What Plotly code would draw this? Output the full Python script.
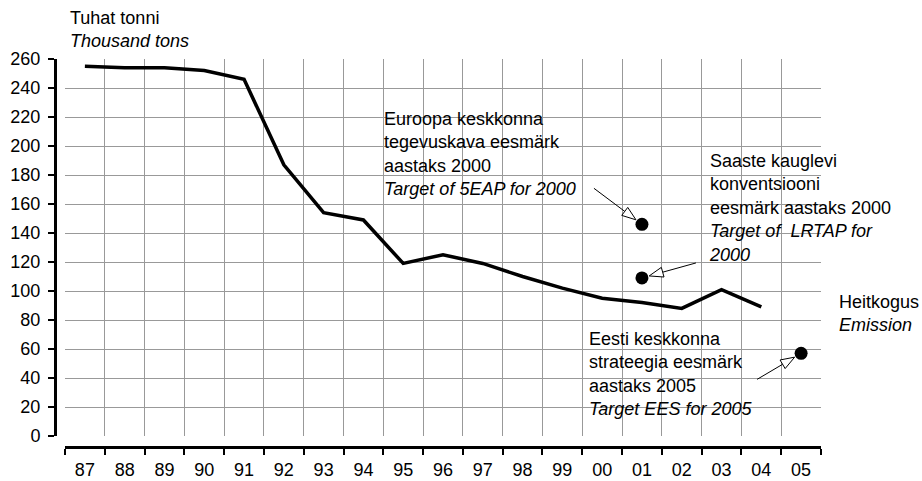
import math
import plotly.graph_objects as go

# ---- data -------------------------------------------------------------
years = ["87", "88", "89", "90", "91", "92", "93", "94", "95", "96",
         "97", "98", "99", "00", "01", "02", "03", "04", "05"]
emission_years = years[:18]
emission = [255, 254, 254, 252, 246, 187, 154, 149, 119, 125,
            119, 110, 102, 95, 92, 88, 101, 89]

target_years = ["01", "01", "05"]
target_values = [146, 109, 57]

y_ticks = list(range(0, 261, 20))

# ---- page geometry (pixels) ------------------------------------------
W, H = 922, 481
ML, MR, MT, MB = 50, 101, 59, 20
PAPER_W = W - ML - MR
PAPER_H = H - MT - MB
PLOT_L = 65          # left edge of the gridded area
PLOT_R = W - MR      # right edge of the gridded area
PLOT_B = 436         # bottom edge of the gridded area (value 0)
X_AXIS_LINE = 447    # detached category axis line
Y_AXIS_LINE = 55     # detached value axis line
Y_MAX = 260

FONT = "Liberation Sans, Arial, Helvetica, sans-serif"
FS = 18


def to_paper(px, py):
    return (px - ML) / PAPER_W, (H - MB - py) / PAPER_H


def data_px(cat, val):
    i = years.index(cat)
    step = (PLOT_R - PLOT_L) / len(years)
    return PLOT_L + (i + 0.5) * step, PLOT_B - val * (PLOT_B - MT) / Y_MAX


fig = go.Figure()

fig.add_trace(go.Scatter(
    x=emission_years, y=emission, mode="lines",
    line=dict(color="black", width=3.5),
    hoverinfo="skip", showlegend=False,
))
fig.add_trace(go.Scatter(
    x=target_years, y=target_values, mode="markers",
    marker=dict(color="black", size=13),
    hoverinfo="skip", showlegend=False,
))

shapes = []

# white label boxes hiding the grid behind the texts
boxes = [(373, 107, 607, 207), (697, 147, PLOT_R, 273), (577, 327, 778, 430)]
for x0, y0, x1, y1 in boxes:
    a, b = to_paper(x0, y0)
    c, d = to_paper(x1, y1)
    shapes.append(dict(type="rect", xref="paper", yref="paper",
                       x0=a, y0=d, x1=c, y1=b, fillcolor="white",
                       line=dict(width=0), layer="between"))

# hollow-headed pointers running from each label to its target dot
tails = [(-48, -36), (54, -15), (-44, 26)]   # tail offsets from the dot, px
STANDOFF, HEAD_LEN, HEAD_HW = 7.5, 14, 5
for cat, val, (dx, dy) in zip(target_years, target_values, tails):
    cx, cy = data_px(cat, val)
    L = math.hypot(dx, dy)
    ux, uy = dx / L, dy / L
    tip = (cx + ux * STANDOFF, cy + uy * STANDOFF)
    base = (tip[0] + ux * HEAD_LEN, tip[1] + uy * HEAD_LEN)
    nx, ny = -uy, ux
    p1 = (base[0] + nx * HEAD_HW, base[1] + ny * HEAD_HW)
    p2 = (base[0] - nx * HEAD_HW, base[1] - ny * HEAD_HW)
    tail = (cx + dx, cy + dy)
    s0 = to_paper(*base)
    s1 = to_paper(*tail)
    shapes.append(dict(type="line", xref="paper", yref="paper",
                       x0=s0[0], y0=s0[1], x1=s1[0], y1=s1[1],
                       line=dict(color="black", width=1), layer="above"))
    pts = [to_paper(*p) for p in (tip, p1, p2)]
    path = "M{},{} L{},{} L{},{} Z".format(pts[0][0], pts[0][1],
                                           pts[1][0], pts[1][1],
                                           pts[2][0], pts[2][1])
    shapes.append(dict(type="path", xref="paper", yref="paper", path=path,
                       fillcolor="white", line=dict(color="black", width=1),
                       layer="above"))

texts = [
    (68, 6, "Tuhat tonni<br><i>Thousand tons</i>"),
    (382, 107, "Euroopa keskkonna<br>tegevuskava eesmärk<br>aastaks 2000"
               "<br><i>Target of 5EAP for 2000</i>"),
    (707, 149, "Saaste kauglevi<br>konventsiooni<br>eesmärk aastaks 2000"
               "<br><i>Target of  LRTAP for</i><br><i>2000</i>"),
    (587, 327, "Eesti keskkonna<br>strateegia eesmärk<br>aastaks 2005"
               "<br><i>Target EES for 2005</i>"),
    (837, 290, "Heitkogus<br><i>Emission</i>"),
]
annotations = []
for px, py, t in texts:
    ax_, ay_ = to_paper(px, py)
    annotations.append(dict(xref="paper", yref="paper", x=ax_, y=ay_,
                            xanchor="left", yanchor="top", align="left",
                            text=t, showarrow=False,
                            font=dict(family=FONT, size=FS, color="black")))

fig.update_layout(
    width=W, height=H,
    margin=dict(l=ML, r=MR, t=MT, b=MB, pad=0, autoexpand=False),
    paper_bgcolor="white", plot_bgcolor="white",
    font=dict(family=FONT, size=FS, color="black"),
    showlegend=False,
    shapes=shapes,
    annotations=annotations,
    xaxis=dict(
        type="category", categoryorder="array", categoryarray=years,
        range=[-0.5, len(years) - 0.5],
        domain=[(PLOT_L - ML) / PAPER_W, 1],
        anchor="free", position=(H - MB - X_AXIS_LINE) / PAPER_H,
        tickson="boundaries", ticks="outside", ticklen=6, tickwidth=1.5,
        tickcolor="black", showline=True, linecolor="black", linewidth=3,
        showgrid=True, gridcolor="#999999", gridwidth=1,
        ticklabelstandoff=5, tickfont=dict(size=FS),
        automargin=False, fixedrange=True,
    ),
    yaxis=dict(
        range=[0, Y_MAX], tickvals=y_ticks,
        domain=[(H - MB - PLOT_B) / PAPER_H, 1],
        anchor="free", position=(Y_AXIS_LINE - ML) / PAPER_W,
        ticks="outside", ticklen=6, tickwidth=1.5, tickcolor="black",
        showline=True, linecolor="black", linewidth=3,
        showgrid=True, gridcolor="#999999", gridwidth=1,
        zeroline=False, ticklabelstandoff=4, tickfont=dict(size=FS),
        automargin=False, fixedrange=True,
    ),
)

fig.write_html("out.html")
